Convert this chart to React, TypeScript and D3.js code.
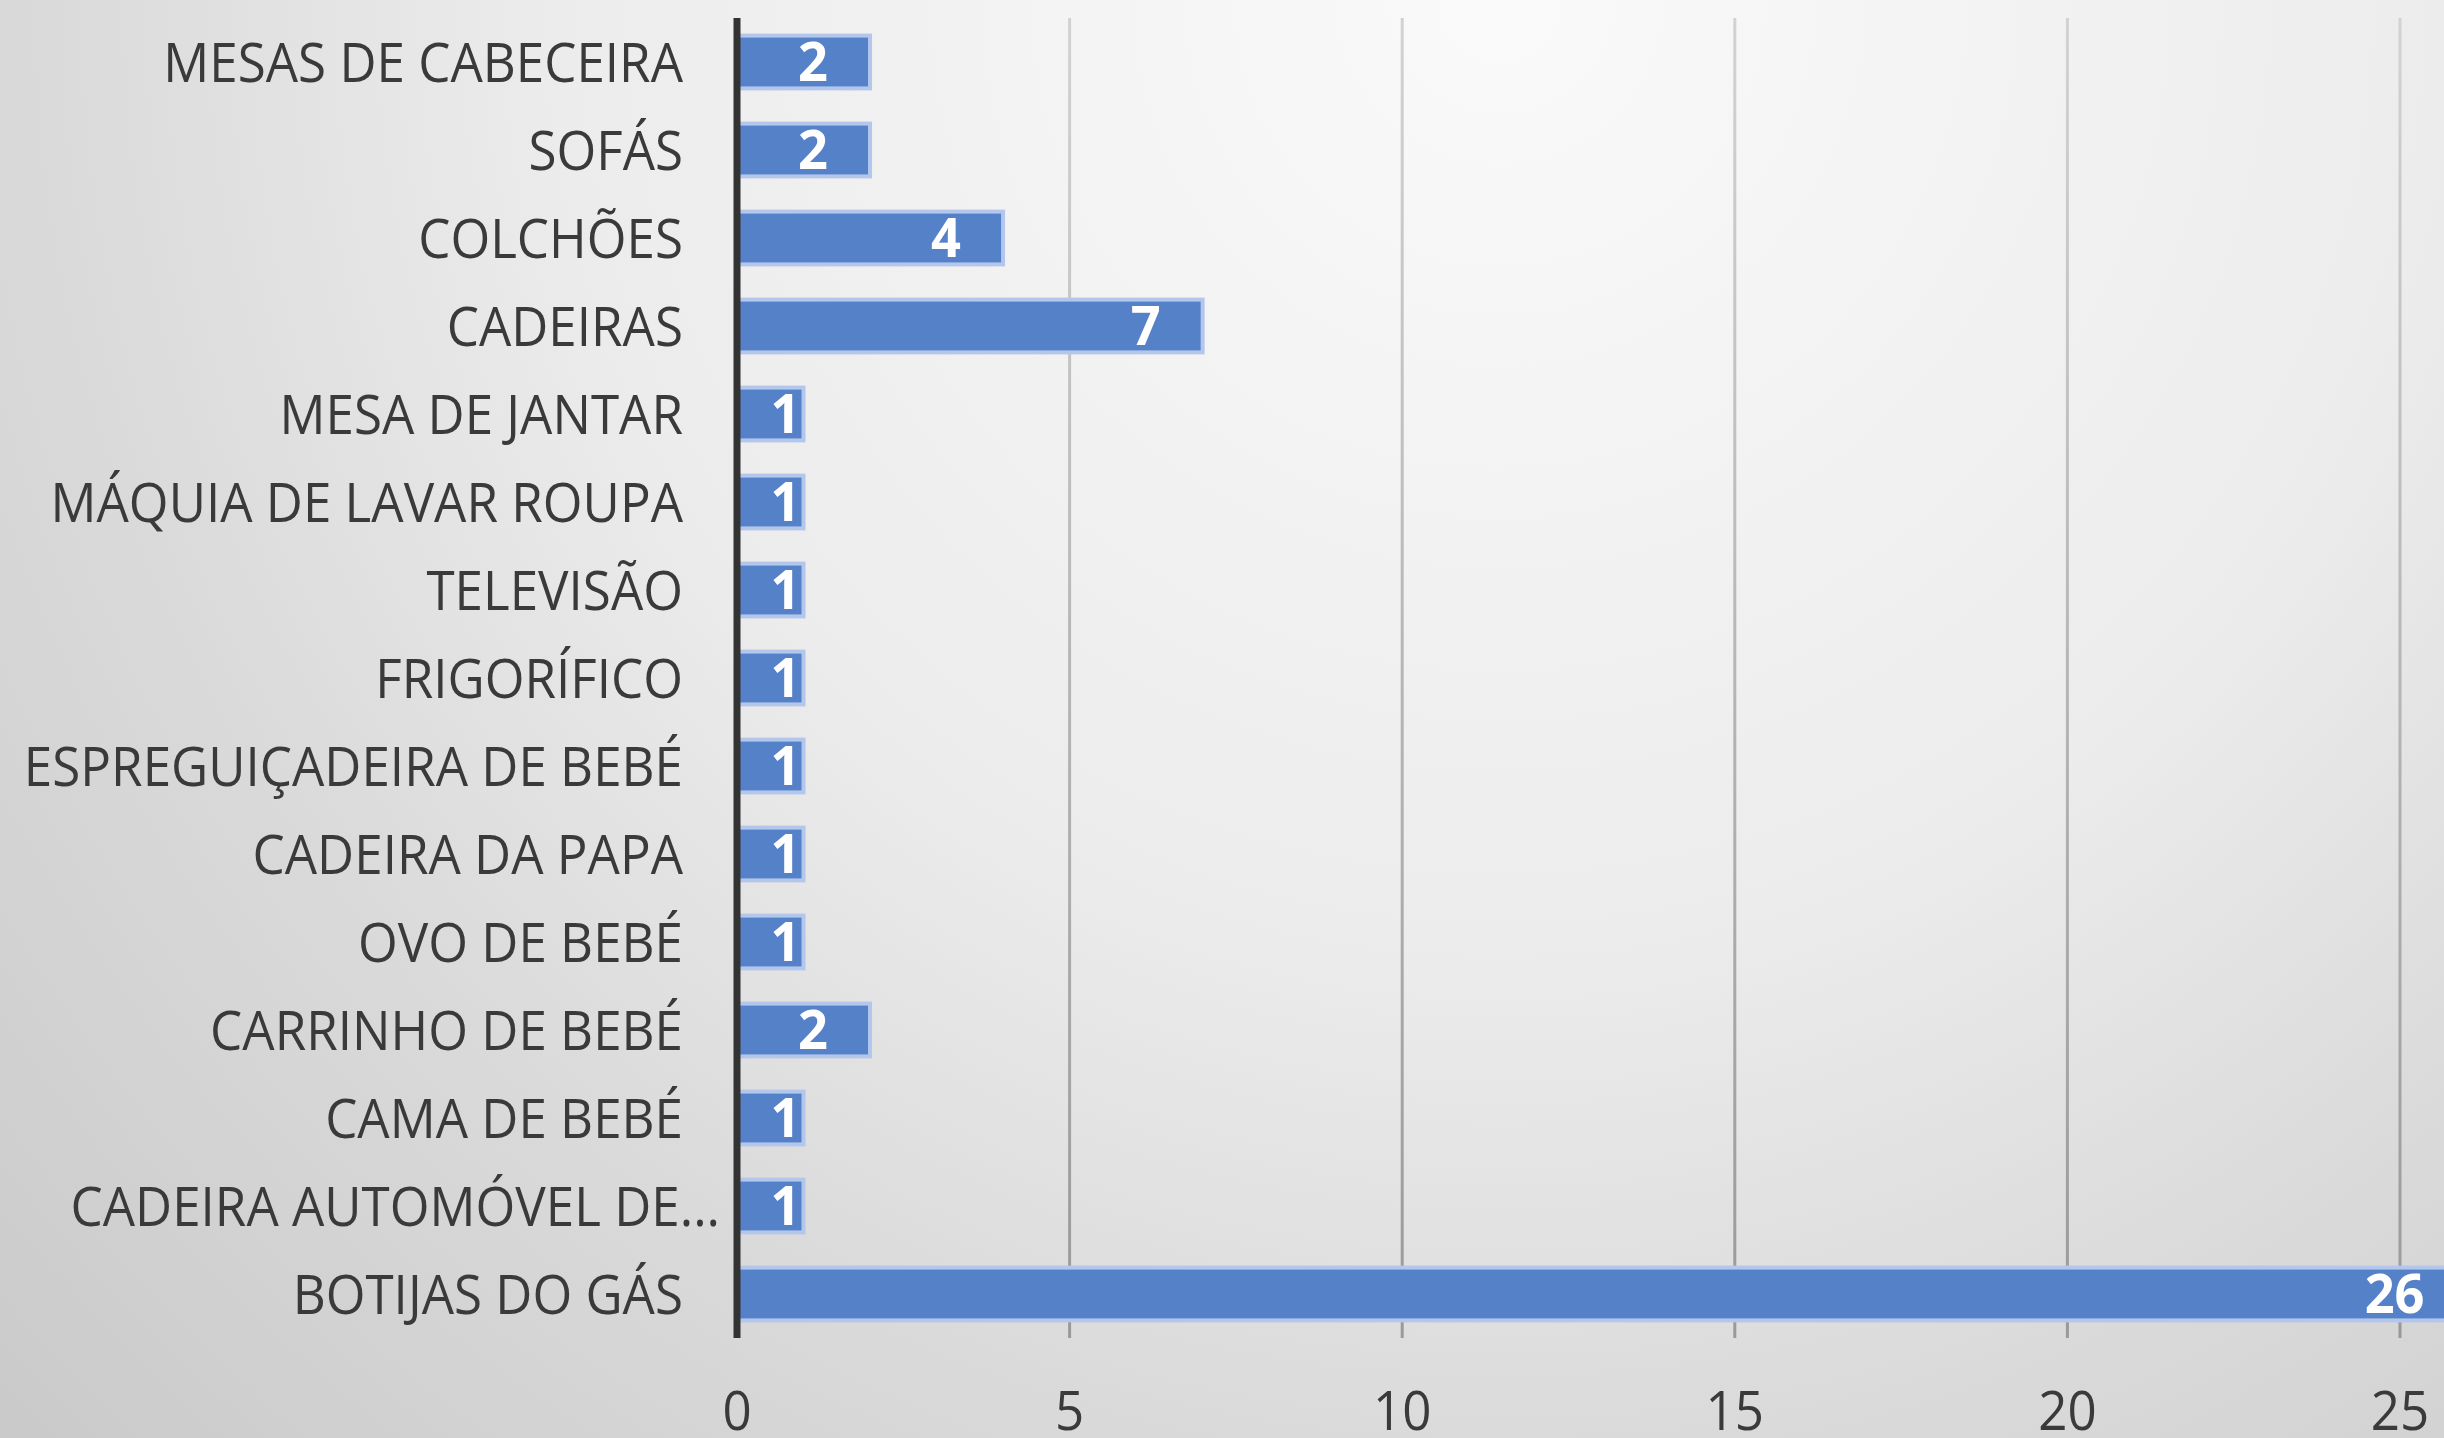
import React, { useEffect, useRef } from 'react';
import * as d3 from 'd3';

const categories = [
  'MESAS DE CABECEIRA',
  'SOFÁS',
  'COLCHÕES',
  'CADEIRAS',
  'MESA DE JANTAR',
  'MÁQUIA DE LAVAR ROUPA',
  'TELEVISÃO',
  'FRIGORÍFICO',
  'ESPREGUIÇADEIRA DE BEBÉ',
  'CADEIRA DA PAPA',
  'OVO DE BEBÉ',
  'CARRINHO DE BEBÉ',
  'CAMA DE BEBÉ',
  'CADEIRA AUTOMÓVEL DE...',
  'BOTIJAS DO GÁS',
];
const values = [2, 2, 4, 7, 1, 1, 1, 1, 1, 1, 1, 2, 1, 1, 26];
const xTicks = [0, 5, 10, 15, 20, 25];

const W = 2444;
const H = 1438;
const FONT = "'Open Sans', 'Liberation Sans', sans-serif";
const SQUEEZE = 0.93; // labels in the original are a narrow face

export default function App() {
  const svgRef = useRef<SVGSVGElement | null>(null);

  useEffect(() => {
    document.body.style.margin = '0';
    const svg = d3.select(svgRef.current!);
    svg.selectAll('*').remove();

    const margin = { top: 18, left: 737, bottom: 100 };
    const x = d3.scaleLinear().domain([0, 25]).range([margin.left, 2400]);
    const y = d3
      .scaleBand<string>()
      .domain(categories)
      .range([margin.top, H - margin.bottom])
      .paddingInner(0.4)
      .paddingOuter(0.2);

    const defs = svg.append('defs');
    const bg = defs
      .append('radialGradient')
      .attr('id', 'bg')
      .attr('gradientUnits', 'userSpaceOnUse')
      .attr('cx', 1500)
      .attr('cy', 0)
      .attr('r', 2100);
    bg.append('stop').attr('offset', 0).attr('stop-color', '#fafafa');
    bg.append('stop').attr('offset', 0.45).attr('stop-color', '#ececec');
    bg.append('stop').attr('offset', 0.69).attr('stop-color', '#dadada');
    bg.append('stop').attr('offset', 1).attr('stop-color', '#c9c9c9');

    const gridGrad = defs
      .append('linearGradient')
      .attr('id', 'grid')
      .attr('gradientUnits', 'userSpaceOnUse')
      .attr('x1', 0)
      .attr('y1', margin.top)
      .attr('x2', 0)
      .attr('y2', H - margin.bottom);
    gridGrad.append('stop').attr('offset', 0).attr('stop-color', '#d2d2d2');
    gridGrad.append('stop').attr('offset', 1).attr('stop-color', '#999999');

    svg.append('rect').attr('width', W).attr('height', H).attr('fill', 'url(#bg)');

    // vertical gridlines
    svg
      .append('g')
      .selectAll('line')
      .data(xTicks.filter((t) => t > 0))
      .join('line')
      .attr('x1', (d) => x(d))
      .attr('x2', (d) => x(d))
      .attr('y1', margin.top)
      .attr('y2', H - margin.bottom)
      .attr('stroke', 'url(#grid)')
      .attr('stroke-width', 3);

    const data = categories.map((c, i) => ({ name: c, value: values[i] }));

    // bars
    svg
      .append('g')
      .selectAll('rect')
      .data(data)
      .join('rect')
      .attr('x', x(0))
      .attr('y', (d) => y(d.name)!)
      .attr('width', (d) => x(d.value) - x(0))
      .attr('height', y.bandwidth())
      .attr('fill', '#5581c9')
      .attr('stroke', '#b3c7ed')
      .attr('stroke-width', 4);

    // data labels
    svg
      .append('g')
      .selectAll('text')
      .data(data)
      .join('text')
      .attr(
        'transform',
        (d) =>
          `translate(${x(d.value) - (x(d.value) - x(0) > 100 ? 42 : 3)},${
            y(d.name)! + y.bandwidth() / 2 + 19
          }) scale(0.97,1)`
      )
      .attr('text-anchor', 'end')
      .attr('fill', '#ffffff')
      .attr('font-family', FONT)
      .attr('font-weight', 'bold')
      .attr('font-size', 54)
      .text((d) => d.value);

    // y axis line
    svg
      .append('line')
      .attr('x1', x(0))
      .attr('x2', x(0))
      .attr('y1', margin.top)
      .attr('y2', H - margin.bottom)
      .attr('stroke', '#333333')
      .attr('stroke-width', 7);

    // category labels
    svg
      .append('g')
      .selectAll('text')
      .data(data)
      .join('text')
      .attr(
        'transform',
        (d) =>
          `translate(${d.name.endsWith('...') ? x(0) - 17 : x(0) - 54},${
            y(d.name)! + y.bandwidth() / 2 + 20
          }) scale(${SQUEEZE},1)`
      )
      .attr('text-anchor', 'end')
      .attr('fill', '#3a3a3a')
      .attr('font-family', FONT)
      .attr('font-size', 55)
      .text((d) => d.name);

    // x tick labels
    svg
      .append('g')
      .selectAll('text')
      .data(xTicks)
      .join('text')
      .attr('transform', (d) => `translate(${x(d)},1430) scale(${SQUEEZE},1)`)
      .attr('text-anchor', 'middle')
      .attr('fill', '#3a3a3a')
      .attr('font-family', FONT)
      .attr('font-size', 55)
      .text((d) => d);
  }, []);

  return <svg ref={svgRef} width={W} height={H} style={{ display: 'block' }} />;
}
